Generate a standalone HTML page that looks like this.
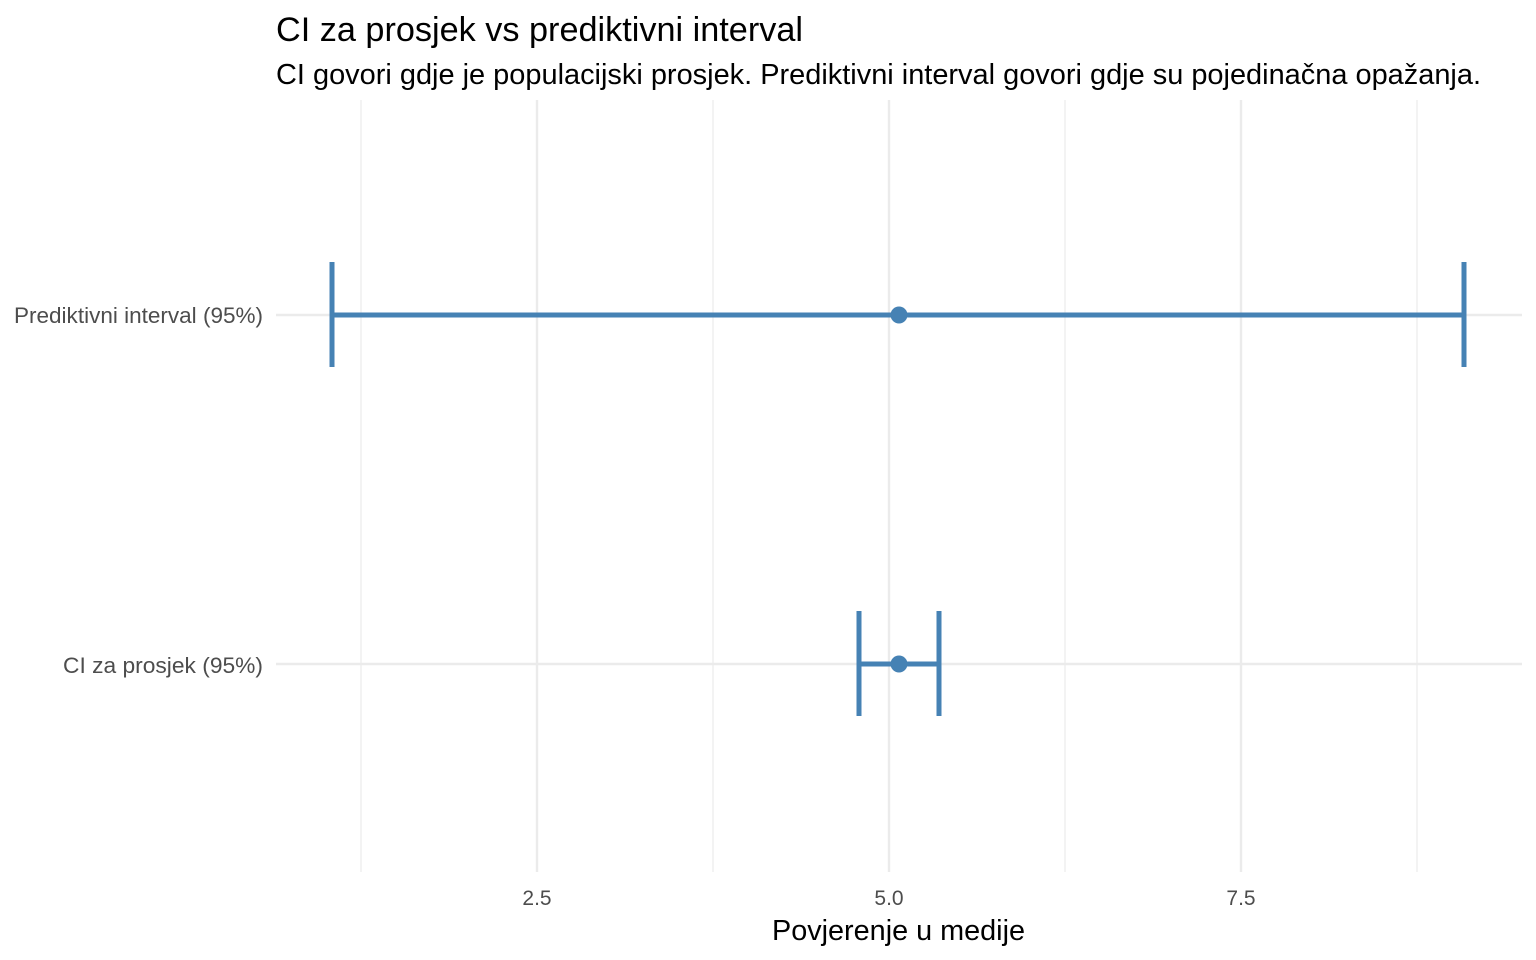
<!DOCTYPE html>
<html><head><meta charset="utf-8"><style>
html,body{margin:0;padding:0;background:#fff;}
svg{display:block;font-family:"Liberation Sans",Arial,sans-serif;}
</style></head><body>
<svg width="1536" height="960" viewBox="0 0 1536 960" xmlns="http://www.w3.org/2000/svg">
<rect width="1536" height="960" fill="#fff"/>
<g stroke="#ebebeb" stroke-width="1.2">
<line x1="361" y1="100" x2="361" y2="872"/>
<line x1="713" y1="100" x2="713" y2="872"/>
<line x1="1065" y1="100" x2="1065" y2="872"/>
<line x1="1417" y1="100" x2="1417" y2="872"/>
</g>
<g stroke="#ebebeb" stroke-width="2.4">
<line x1="537" y1="100" x2="537" y2="872"/>
<line x1="889" y1="100" x2="889" y2="872"/>
<line x1="1241" y1="100" x2="1241" y2="872"/>
<line x1="276" y1="315" x2="1522" y2="315"/>
<line x1="276" y1="664" x2="1522" y2="664"/>
</g>
<g stroke="#4682b4" stroke-width="5" fill="none">
<line x1="332" y1="315" x2="1464" y2="315"/>
<line x1="332" y1="262" x2="332" y2="367"/>
<line x1="1464" y1="262" x2="1464" y2="367"/>
<line x1="859" y1="664" x2="939" y2="664"/>
<line x1="859" y1="611" x2="859" y2="716"/>
<line x1="939" y1="611" x2="939" y2="716"/>
</g>
<circle cx="899" cy="315" r="8.5" fill="#4682b4"/>
<circle cx="899" cy="664" r="8.5" fill="#4682b4"/>
<g fill="#4d4d4d" font-size="22.5">
<text x="14" y="323" textLength="249" lengthAdjust="spacingAndGlyphs">Prediktivni interval (95%)</text>
<text x="63" y="673" textLength="200" lengthAdjust="spacingAndGlyphs">CI za prosjek (95%)</text>
</g>
<g fill="#4d4d4d" font-size="21" text-anchor="middle">
<text x="537" y="905">2.5</text>
<text x="889" y="905">5.0</text>
<text x="1241" y="905">7.5</text>
</g>
<text x="772" y="940" font-size="28.8" fill="#000" textLength="253" lengthAdjust="spacingAndGlyphs">Povjerenje u medije</text>
<text x="276" y="41" font-size="34" fill="#000" textLength="527" lengthAdjust="spacingAndGlyphs">CI za prosjek vs prediktivni interval</text>
<text x="276" y="84" font-size="28.5" fill="#000" textLength="1205" lengthAdjust="spacingAndGlyphs">CI govori gdje je populacijski prosjek. Prediktivni interval govori gdje su pojedinačna opažanja.</text>
</svg>
</body></html>
